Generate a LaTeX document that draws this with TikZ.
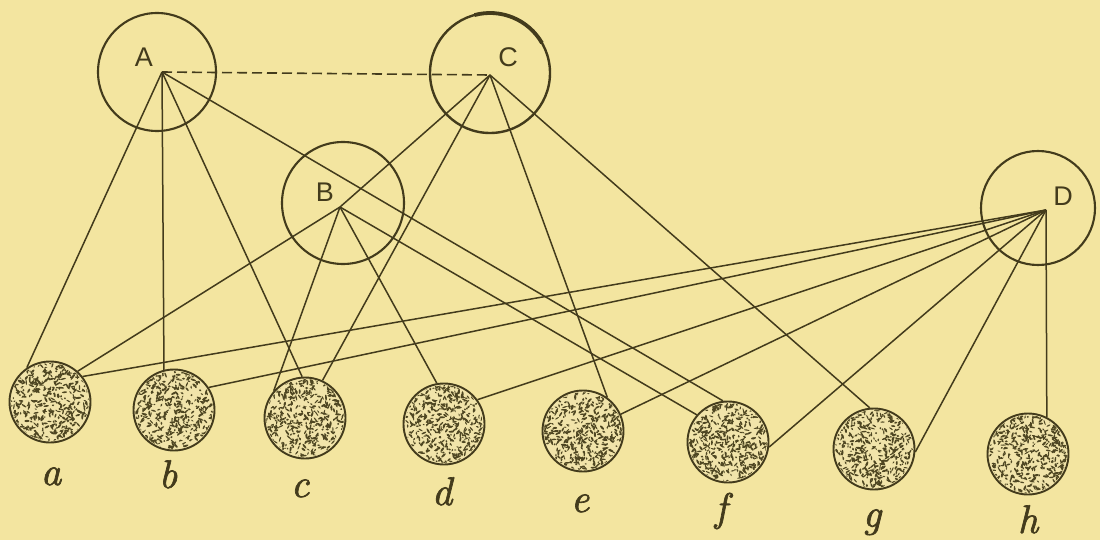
\documentclass[tikz,border=0pt]{standalone}
\usepackage{fontspec}
\newfontfamily\capfont{Liberation Sans}
\newfontface\labfont{lmroman10-italic.otf}[FakeBold=1.6]
\usetikzlibrary{calc}
\definecolor{paper}{HTML}{F3E5A0}
\definecolor{ink}{HTML}{433B1C}
\definecolor{speck}{HTML}{4E4622}
\definecolor{cellbg}{HTML}{F1E4AA}
\begin{document}
\begin{tikzpicture}[x=1pt,y=-1pt,
  big/.style={circle,draw=ink,line width=2.1pt,minimum size=#1,inner sep=0pt},
  cell/.style={circle,draw=ink,fill=cellbg,line width=1.9pt,minimum size=81pt,inner sep=0pt},
  conn/.style={draw=ink,line width=1.5pt},
  dashconn/.style={draw=ink,line width=1.6pt,dash pattern=on 10pt off 5pt},
  lab/.style={anchor=base,inner sep=0pt,text=ink,font=\labfont\fontsize{40}{40}\selectfont},
  caplab/.style={anchor=base,inner sep=0pt,text=ink,font=\capfont\fontsize{27}{27}\selectfont}]
\fill[paper] (0,0) rectangle (1100,540);
\useasboundingbox (0,0) rectangle (1100,540);

% large circles
\node[big=118pt] (A) at (157,72) {};
\node[big=122pt] (B) at (343,203) {};
\node[big=120pt,line width=2.4pt] (C) at (490,73) {};
\node[big=114pt] (D) at (1038,208) {};
\draw[ink,line width=3.8pt] (C.center) ++(30:60pt) arc[start angle=30,end angle=105,radius=60pt];

% hubs
\coordinate (Ah) at (162,72);
\coordinate (Bh) at (340,207);
\coordinate (Ch) at (490,75);
\coordinate (Dh) at (1046,210);

% capital labels
\node[caplab] (lA) at (144,67) {A};
\node[caplab] (lB) at (325,201) {B};
\node[caplab] (lC) at (508,67) {C};
\node[caplab] (lD) at (1063,206) {D};

% small stippled circles
\node[cell] (a) at (50,402) {};
\node[cell] (b) at (174,410) {};
\node[cell] (c) at (305,418) {};
\node[cell] (d) at (444,424) {};
\node[cell] (e) at (583,431) {};
\node[cell] (f) at (728,442) {};
\node[cell] (g) at (874,449) {};
\node[cell] (h) at (1028,454) {};

\pgfmathsetseed{42}
\foreach \n in {a,b,c,d,e,f,g,h}{
  \begin{scope}
    \clip (\n.center) circle[radius=38.8pt];
    \foreach \k in {1,...,420}{
      \pgfmathsetmacro\ang{rnd*360}
      \pgfmathsetmacro\rad{40*sqrt(rnd)}
      \pgfmathsetmacro\rot{rnd*180}
      \pgfmathsetmacro\len{1.0+2.0*rnd}
      \pgfmathsetmacro\wid{0.55+0.55*rnd}
      \fill[speck,shift={($(\n.center)+(\ang:\rad pt)$)},rotate=\rot] (0,0) ellipse[x radius=\len pt,y radius=\wid pt];
    }
  \end{scope}
}

% lower labels
\node[lab] (la) at (51,485) {a};
\node[lab] (lb) at (168,488) {b};
\node[lab] (lc) at (300,497) {c};
\node[lab] (ld) at (442,505) {d};
\node[lab] (le) at (580,512) {e};
\node[lab] (lf) at (721,521) {f};
\node[lab] (lg) at (872,527) {g};
\node[lab] (lh) at (1028,533) {h};

% connectors
\draw[dashconn] (Ah) -- (Ch);
\draw[conn] (Ah) -- (a.124);
\draw[conn] (Ah) -- (b.104);
\draw[conn] (Ah) -- (c.94);
\draw[conn] (Ah) -- (f.97);

\draw[conn] (Bh) -- (a.48);
\draw[conn] (Bh) -- (c.139);
\draw[conn] (Bh) -- (d.100);
\draw[conn] (Bh) -- (f.139);

\draw[conn] (Ch) -- (Bh);
\draw[conn] (Ch) -- (c.65);
\draw[conn] (Ch) -- (e.54);
\draw[conn] (Ch) -- (g.96);

\draw[conn] (Dh) -- (a.38);
\draw[conn] (Dh) -- (b.33);
\draw[conn] (Dh) -- (d.36);
\draw[conn] (Dh) -- (e.24);
\draw[conn] (Dh) -- (f.-7);
\draw[conn] (Dh) -- (g.-4);
\draw[conn] (Dh) -- (h.63);
\end{tikzpicture}
\end{document}
